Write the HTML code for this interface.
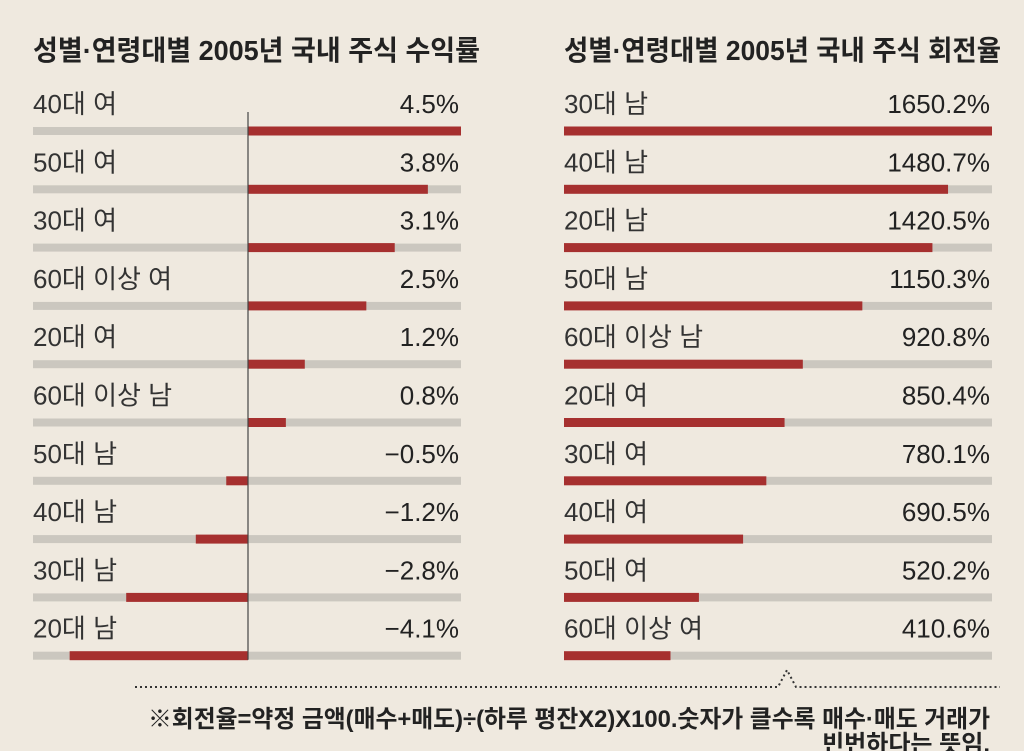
<!DOCTYPE html>
<html><head><meta charset="utf-8"><style>
body{margin:0;background:#efe9df;}
svg{display:block;font-family:"Liberation Sans","Noto Sans CJK KR",sans-serif;}
</style></head><body>
<svg id="c" width="1024" height="751" viewBox="0 0 1024 751">
<rect width="1024" height="751" fill="#efe9df"/>
<text x="33" y="60" font-size="28" font-weight="bold" fill="#222" textLength="447" lengthAdjust="spacingAndGlyphs">성별·연령대별 2005년 국내 주식 수익률</text>
<text x="564" y="60" font-size="28" font-weight="bold" fill="#222" textLength="437" lengthAdjust="spacingAndGlyphs">성별·연령대별 2005년 국내 주식 회전율</text>
<g id="L"></g>
<g id="R"></g>
<polyline points="135,687 778,687 787,670 796,687 1000,687" fill="none" stroke="#333" stroke-width="2" stroke-dasharray="2,3"/>
<text x="148" y="727" font-size="24" font-weight="bold" fill="#222" textLength="842" lengthAdjust="spacingAndGlyphs">※회전율=약정 금액(매수+매도)÷(하루 평잔X2)X100.숫자가 클수록 매수·매도 거래가</text>
<text x="990" y="752" text-anchor="end" font-size="24" font-weight="bold" fill="#222">빈번하다는 뜻임.</text>
</svg>
<script>
const leftCats=["40대 여","50대 여","30대 여","60대 이상 여","20대 여","60대 이상 남","50대 남","40대 남","30대 남","20대 남"];
const leftVals=[4.5,3.8,3.1,2.5,1.2,0.8,-0.5,-1.2,-2.8,-4.1];
const rightCats=["30대 남","40대 남","20대 남","50대 남","60대 이상 남","20대 여","30대 여","40대 여","50대 여","60대 이상 여"];
const rightVals=[1650.2,1480.7,1420.5,1150.3,920.8,850.4,780.1,690.5,520.2,410.6];
const NS="http://www.w3.org/2000/svg";
function mk(p,t,a){const e=document.createElementNS(NS,t);for(const k in a)e.setAttribute(k,a[k]);p.appendChild(e);return e;}
const rowY=i=>131+i*58.3;
const x0L=33,x1L=461,zeroL=248;
const xL=v=>zeroL+v*(v>=0?213/4.5:43.5);
const gL=document.getElementById('L');
leftCats.forEach((c,i)=>{
 const y=rowY(i);
 const bg=mk(gL,'rect',{x:x0L,y:y-4,width:x1L-x0L,height:8,fill:'#cbc7bf'});
 
 
 const v=leftVals[i],xa=Math.min(zeroL,xL(v)),xb=Math.max(zeroL,xL(v));
 const b=mk(gL,'rect',{x:xa,y:y-4.5,width:xb-xa,height:9,fill:'#a6302f'});
 
 
 const t=mk(gL,'text',{x:x0L,y:y-18,'font-size':26,fill:'#333'});t.textContent=c;
 
 
 const tv=mk(gL,'text',{x:x1L-2,y:y-18,'font-size':26,fill:'#222','text-anchor':'end'});
 tv.textContent=(v<0?'−'+Math.abs(v).toFixed(1):v.toFixed(1))+'%';
 
 
});
const ax=mk(gL,'line',{x1:zeroL,x2:zeroL,y1:112,y2:rowY(9)+4,stroke:'#444','stroke-width':1.2});


const x0R=564,x1R=992;
const xR=v=>x0R+v*(x1R-x0R)/1650.2;
const gR=document.getElementById('R');
rightCats.forEach((c,i)=>{
 const y=rowY(i);
 const bg=mk(gR,'rect',{x:x0R,y:y-4,width:x1R-x0R,height:8,fill:'#cbc7bf'});
 
 
 const b=mk(gR,'rect',{x:x0R,y:y-4.5,width:xR(rightVals[i])-x0R,height:9,fill:'#a6302f'});
 
 
 const t=mk(gR,'text',{x:x0R,y:y-18,'font-size':26,fill:'#333'});t.textContent=c;
 
 
 const tv=mk(gR,'text',{x:x1R-2,y:y-18,'font-size':26,fill:'#222','text-anchor':'end'});
 tv.textContent=rightVals[i].toFixed(1)+'%';
 
 
});
</script>
</body></html>
